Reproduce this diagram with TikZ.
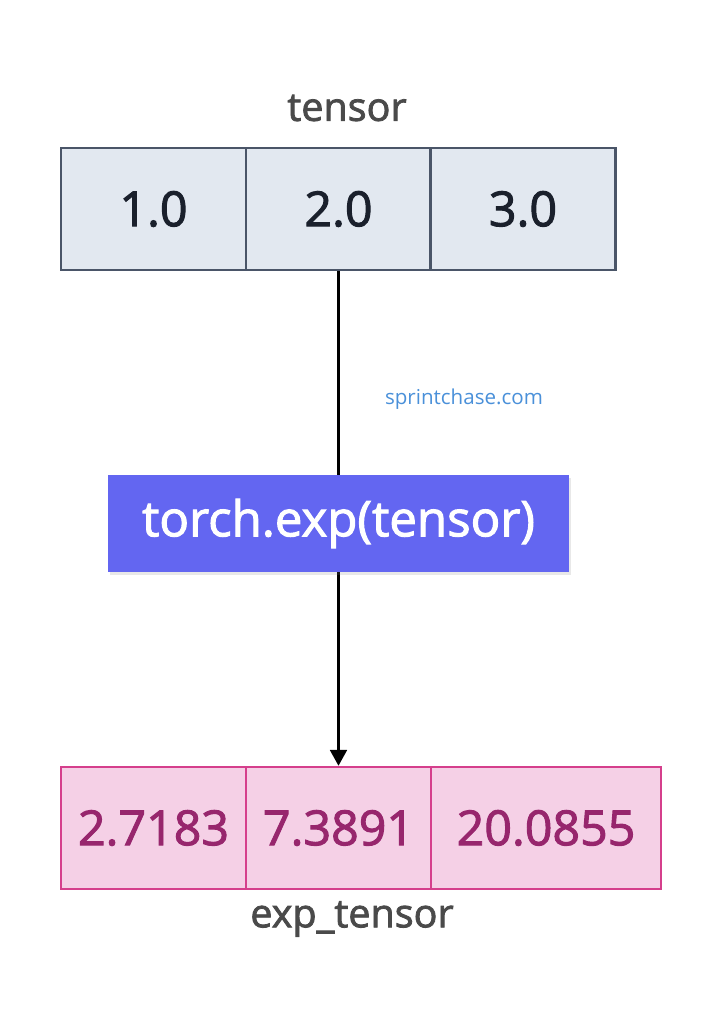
\documentclass[tikz,border=0pt]{standalone}
\usepackage{fontspec}
\setmainfont{Open Sans}
\newfontfamily\semifont{Open Sans}[FakeBold=2]
\usetikzlibrary{arrows.meta,shadows}

\definecolor{inFill}{HTML}{E2E8F0}
\definecolor{inDraw}{HTML}{4A5568}
\definecolor{inText}{HTML}{1A202C}
\definecolor{opFill}{HTML}{6366F1}
\definecolor{outFill}{HTML}{F5D0E6}
\definecolor{outDraw}{HTML}{D53F8C}
\definecolor{outText}{HTML}{97266D}
\definecolor{labelText}{HTML}{4A4A4A}
\definecolor{markText}{HTML}{4A90D9}

\begin{document}
\begin{tikzpicture}[x=0.02cm,y=-0.02cm,
  incell/.style={draw=inDraw,fill=inFill,text=inText,line width=1.4pt,minimum height=2.44cm,inner sep=0pt},
  outcell/.style={draw=outDraw,fill=outFill,text=outText,line width=1.4pt,minimum height=2.44cm,inner sep=0pt},
  opbox/.style={fill=opFill,text=white,minimum width=9.22cm,minimum height=1.94cm,inner sep=0pt,
    drop shadow={opacity=0.18,shadow xshift=1pt,shadow yshift=-1.5pt}}]
\newcommand{\myfontcell}[1]{
\semifont\fontsize{27.5}{32}\selectfont{#1}
}\newcommand{\myfontop}[1]{
\semifont\fontsize{28}{32}\selectfont{#1}
}\newcommand{\myfontlabel}[1]{
\semifont\fontsize{22.5}{26}\selectfont{#1}
}%Canvas
\useasboundingbox (0,0) rectangle (724,1024);
%Input tensor
\node [labelText] (intitle) at (347,108) {\myfontlabel{tensor}};
\node [incell,minimum width=3.7cm] (in1) at (153.5,209) {\myfontcell{1.0}};
\node [incell,minimum width=3.7cm] (in2) at (338.5,209) {\myfontcell{2.0}};
\node [incell,minimum width=3.7cm] (in3) at (523,209) {\myfontcell{3.0}};
%Output tensor
\node [outcell,minimum width=3.7cm] (out1) at (153.5,828) {\myfontcell{2.7183}};
\node [outcell,minimum width=3.7cm] (out2) at (338.5,828) {\myfontcell{7.3891}};
\node [outcell,minimum width=4.6cm] (out3) at (546,828) {\myfontcell{20.0855}};
\node [labelText] (outtitle) at (352,919) {\myfontlabel{exp\_tensor}};
%The arrow
\draw [line width=1.5pt,-{Triangle[length=9pt,width=9.5pt]}] (in2.south) -- (out2.north);
%The operation
\node [opbox] (op) at (338.5,523.5) {\myfontop{torch.exp(tensor)}};
\node [markText] (mark) at (464,399) {\fontsize{11.7}{14}\selectfont sprintchase.com};
\end{tikzpicture}
\end{document}
